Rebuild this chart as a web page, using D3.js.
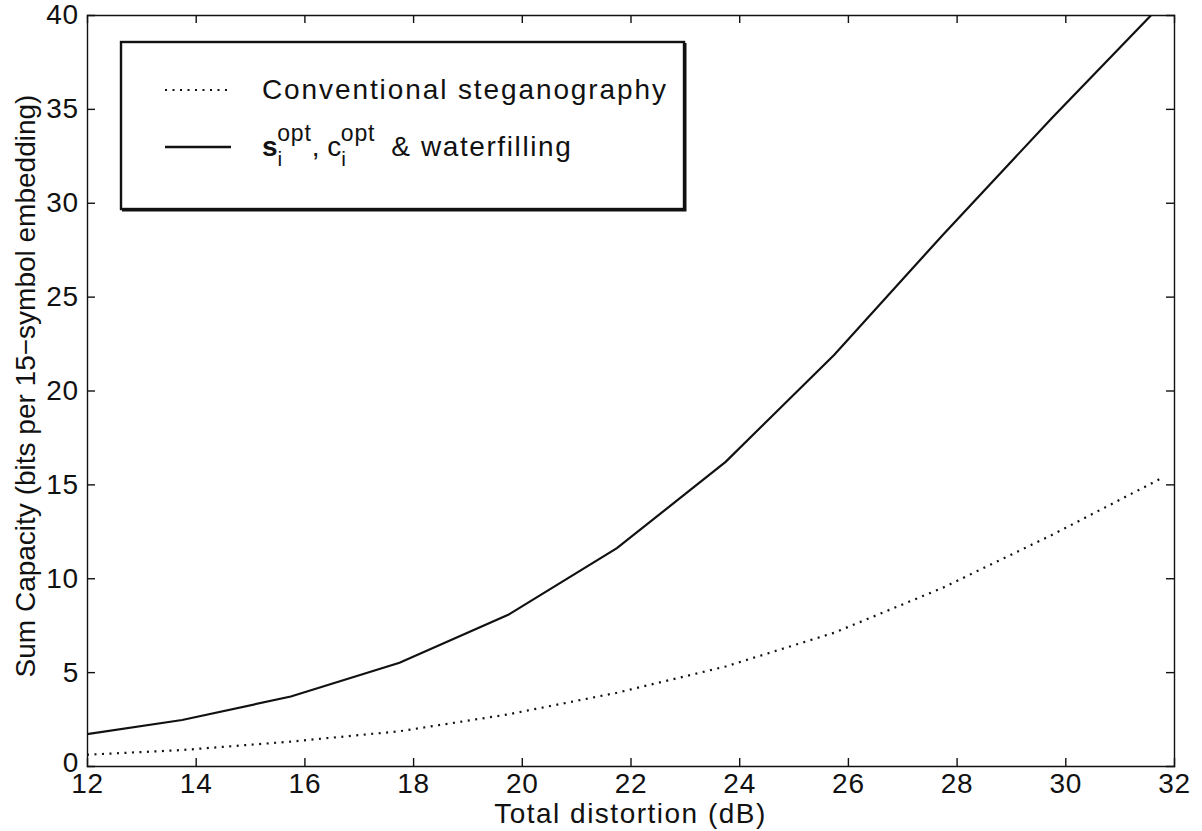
<!DOCTYPE html>
<html>
<head>
<meta charset="utf-8">
<script src="https://cdn.jsdelivr.net/npm/d3@7"></script>
<style>
  body { margin: 0; background: #fff; }
  text { font-family: "Liberation Sans", Arial, sans-serif; fill: #111; }
</style>
</head>
<body>
<svg id="chart"></svg>
<script>
// Define width and height
const width = 1202;
const height = 831;

// Data
const distortion = [12, 13.75, 15.75, 17.75, 19.75, 21.75, 23.75, 25.75, 27.75, 29.75, 31.75];
const conventional = [0.6, 0.85, 1.3, 1.85, 2.75, 3.9, 5.3, 7.1, 9.5, 12.3, 15.3];
const waterfilling = [1.7, 2.45, 3.7, 5.5, 8.05, 11.6, 16.2, 21.9, 28.3, 34.5, 40.5];
const xTicks = [12, 14, 16, 18, 20, 22, 24, 26, 28, 30, 32];
const yTicks = [0, 5, 10, 15, 20, 25, 30, 35, 40];

const margin = { left: 87, top: 15, right: 28, bottom: 65 };

const svg = d3.select("#chart")
    .attr("width", width)
    .attr("height", height);

const x = d3.scaleLinear()
    .domain([12, 32])
    .range([margin.left, width - margin.right]);
const y = d3.scaleLinear()
    .domain([0, 40])
    .range([height - margin.bottom, margin.top]);

// clip so the solid curve stops at the top border
svg.append("clipPath").attr("id", "plot-clip")
    .append("rect")
    .attr("x", x(12)).attr("y", y(40))
    .attr("width", x(32) - x(12))
    .attr("height", y(0) - y(40));

// Axes: ticks point inward, mirrored on top and right (matlab style)
const tickLen = 8;
const bottomAxis = svg.append("g")
    .attr("transform", `translate(0,${y(0)})`)
    .call(d3.axisBottom(x).tickValues(xTicks).tickSize(-tickLen).tickPadding(7));
const topAxis = svg.append("g")
    .attr("transform", `translate(0,${y(40)})`)
    .call(d3.axisTop(x).tickValues(xTicks).tickSize(-tickLen).tickFormat(""));
const leftAxis = svg.append("g")
    .attr("transform", `translate(${x(12)},0)`)
    .call(d3.axisLeft(y).tickValues(yTicks).tickSize(-tickLen).tickPadding(8));
const rightAxis = svg.append("g")
    .attr("transform", `translate(${x(32)},0)`)
    .call(d3.axisRight(y).tickValues(yTicks).tickSize(-tickLen).tickFormat(""));

[bottomAxis, topAxis, leftAxis, rightAxis].forEach(a => {
    a.select(".domain").attr("stroke", "#111").attr("stroke-width", 1.4);
    a.selectAll(".tick line").attr("stroke", "#111").attr("stroke-width", 1.4);
    a.selectAll(".tick text")
        .style("font-size", "28px")
        .style("letter-spacing", "0.8px")
        .attr("fill", "#111");
});
// the "0" label sits a touch higher so it clears the "12" below it
leftAxis.selectAll(".tick text").filter(d => d === 0).attr("dy", "0.2em");
// take away the end ticks that sit on the box corners
[bottomAxis, topAxis].forEach(a => a.selectAll(".tick line").filter(d => d === 12 || d === 32).remove());
[leftAxis, rightAxis].forEach(a => a.selectAll(".tick line").filter(d => d === 0 || d === 40).remove());

// Lines
const line = d3.line()
    .x((d, i) => x(distortion[i]))
    .y(d => y(d));

const plot = svg.append("g").attr("clip-path", "url(#plot-clip)");

plot.append("path")
    .datum(conventional)
    .attr("fill", "none")
    .attr("stroke", "#111")
    .attr("stroke-width", 2.2)
    .attr("stroke-dasharray", "2,5.5")
    .attr("d", line);

plot.append("path")
    .datum(waterfilling)
    .attr("fill", "none")
    .attr("stroke", "#111")
    .attr("stroke-width", 2.2)
    .attr("d", line);

// Axis labels
svg.append("text")
    .attr("x", (x(12) + x(32)) / 2)
    .attr("y", 823)
    .attr("text-anchor", "middle")
    .style("font-size", "28px")
    .style("letter-spacing", "1.5px")
    .text("Total distortion (dB)");

svg.append("text")
    .attr("transform", "translate(35,386) rotate(-90)")
    .attr("text-anchor", "middle")
    .style("font-size", "28px")
    .text("Sum Capacity (bits per 15\u2212symbol embedding)");

// Legend
const legend = svg.append("g");
legend.append("rect")
    .attr("x", 121).attr("y", 42)
    .attr("width", 563).attr("height", 167)
    .attr("fill", "#fff")
    .attr("stroke", "#111")
    .attr("stroke-width", 2.4);
// heavier lower and right edge, as in the scan
legend.append("path")
    .attr("d", `M122,210.5H685.5V43`)
    .attr("fill", "none")
    .attr("stroke", "#111")
    .attr("stroke-width", 2);

legend.append("line")
    .attr("x1", 165).attr("x2", 228)
    .attr("y1", 90).attr("y2", 90)
    .attr("stroke", "#111")
    .attr("stroke-width", 2.2)
    .attr("stroke-dasharray", "2,5.5");

legend.append("text")
    .attr("x", 262).attr("y", 99)
    .style("font-size", "28px")
    .style("letter-spacing", "1.9px")
    .text("Conventional steganography");

legend.append("line")
    .attr("x1", 165).attr("x2", 231)
    .attr("y1", 147).attr("y2", 147)
    .attr("stroke", "#111")
    .attr("stroke-width", 2.4);

const entry2 = legend.append("text")
    .attr("x", 262).attr("y", 156)
    .style("font-size", "28px");
entry2.append("tspan").style("font-weight", "bold").text("s");
entry2.append("tspan").attr("dy", 10).style("font-size", "21px").text("i");
entry2.append("tspan").attr("dx", -5).attr("dy", -25).style("font-size", "23px").style("letter-spacing", "0.8px").text("opt");
entry2.append("tspan").attr("dy", 15).text(", c");
entry2.append("tspan").attr("dy", 10).style("font-size", "21px").text("i");
entry2.append("tspan").attr("dx", -5).attr("dy", -25).style("font-size", "23px").style("letter-spacing", "0.8px").text("opt");
entry2.append("tspan").attr("dx", 16).attr("dy", 15).style("letter-spacing", "1.6px").text("& waterfilling");
</script>
</body>
</html>
